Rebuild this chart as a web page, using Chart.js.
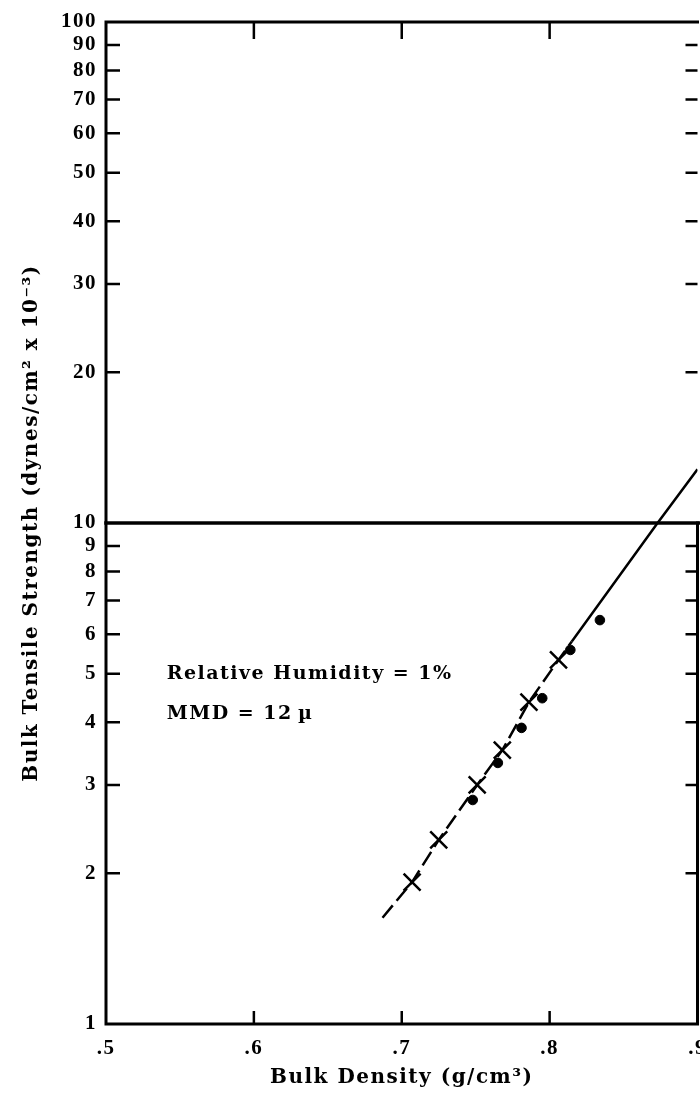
<!DOCTYPE html>
<html>
<head>
<meta charset="utf-8">
<script src="https://cdn.jsdelivr.net/npm/chart.js@4.4.1/dist/chart.umd.min.js"></script>
<style>
    html, body { margin: 0; padding: 0; background: #fff; overflow: hidden; }
    canvas { display: block; }
</style>
</head>
<body>
<!-- a little wider than the window: the ".9" label runs off the page edge like the scan -->
<canvas id="chart" width="712" height="1098"></canvas>
<script>
var xTicks = [0.5, 0.6, 0.7, 0.8, 0.9];
var xTickLabels = ['.5', '.6', '.7', '.8', '.9'];
var yTicks = [1, 2, 3, 4, 5, 6, 7, 8, 9, 10, 20, 30, 40, 50, 60, 70, 80, 90, 100];

// x markers
var crossDensity = [0.707, 0.725, 0.751, 0.768, 0.786, 0.806];
var crossStrength = [1.92, 2.33, 3.00, 3.52, 4.39, 5.33];
// filled dots
var dotDensity = [0.748, 0.765, 0.781, 0.795, 0.814, 0.834];
var dotStrength = [2.80, 3.32, 3.90, 4.47, 5.58, 6.40];
// fitted curve, dashed part then solid part
var dashedDensity = [0.687, 0.707, 0.725, 0.751, 0.768, 0.786, 0.806, 0.815];
var dashedStrength = [1.63, 1.92, 2.33, 3.00, 3.52, 4.39, 5.33, 5.80];
var solidDensity = [0.815, 0.873, 0.900];
var solidStrength = [5.80, 10.0, 12.8];

var notes = ['Relative Humidity = 1%', 'MMD = 12\u2009\u00b5'];

function pts(xs, ys) {
    return xs.map(function (x, i) { return {x: x, y: ys[i]}; });
}

var FONT = '"DejaVu Serif", "Liberation Serif", serif';
var TICKFONT = '"Liberation Serif", "DejaVu Serif", serif';

// typewriter look: a bit of spacing between letters
var spacingPlugin = {
    id: 'spacing',
    beforeDraw: function (chart) { chart.ctx.letterSpacing = '1.5px'; },
    afterDraw: function (chart) { chart.ctx.letterSpacing = '0px'; }
};

var framePlugin = {
    id: 'frame',
    afterDatasetsDraw: function (chart) {
        var ctx = chart.ctx, a = chart.chartArea;
        var xs = chart.scales.x, ys = chart.scales.y;
        var y10 = ys.getPixelForValue(10);
        ctx.save();
        ctx.strokeStyle = '#000';
        ctx.lineCap = 'square';
        ctx.lineWidth = 3;
        ctx.beginPath();
        ctx.moveTo(a.right, a.top);
        ctx.lineTo(a.left, a.top);
        ctx.lineTo(a.left, a.bottom);
        ctx.lineTo(a.right, a.bottom);
        ctx.lineTo(a.right, y10);
        ctx.stroke();

        // heavy line at 10
        ctx.lineWidth = 3.5;
        ctx.beginPath();
        ctx.moveTo(a.left, y10);
        ctx.lineTo(a.right + 4, y10);
        ctx.stroke();

        ctx.lineCap = 'butt';
        ctx.lineWidth = 2.5;
        yTicks.forEach(function (v) {
            if (v === 1 || v === 10 || v === 100) return;
            var p = ys.getPixelForValue(v);
            ctx.beginPath();
            ctx.moveTo(a.left, p);
            ctx.lineTo(a.left + 14, p);
            ctx.moveTo(a.right, p);
            ctx.lineTo(a.right - 12, p);
            ctx.stroke();
        });
        xTicks.forEach(function (v) {
            if (v === 0.5 || v === 0.9) return;
            var p = xs.getPixelForValue(v);
            ctx.beginPath();
            ctx.moveTo(p, a.top);
            ctx.lineTo(p, a.top + 17);
            ctx.moveTo(p, a.bottom);
            ctx.lineTo(p, a.bottom - 13);
            ctx.stroke();
        });

        // notes
        ctx.fillStyle = '#000';
        ctx.font = 'bold 19px ' + FONT;
        ctx.textBaseline = 'middle';
        ctx.textAlign = 'left';
        var nx = xs.getPixelForValue(0.541);
        var ny = ys.getPixelForValue(5);
        ctx.fillText(notes[0], nx, ny);
        ctx.fillText(notes[1], nx, ny + 40);
        ctx.restore();
    }
};

new Chart(document.getElementById('chart'), {
    type: 'scatter',
    data: {
        datasets: [
            {
                data: pts(dashedDensity, dashedStrength),
                showLine: true,
                borderColor: '#000',
                borderWidth: 2.5,
                borderDash: [16, 6],
                pointRadius: 0
            },
            {
                data: pts(solidDensity, solidStrength),
                showLine: true,
                borderColor: '#000',
                borderWidth: 2.5,
                pointRadius: 0
            },
            {
                data: pts(crossDensity, crossStrength),
                pointStyle: 'crossRot',
                pointRadius: 12,
                borderColor: '#000',
                borderWidth: 2.5
            },
            {
                data: pts(dotDensity, dotStrength),
                pointStyle: 'circle',
                pointRadius: 4.8,
                backgroundColor: '#000',
                borderColor: '#000',
                borderWidth: 1
            }
        ]
    },
    options: {
        responsive: false,
        animation: false,
        layout: {padding: {top: 22, right: 2, left: 0, bottom: 0}},
        plugins: {legend: {display: false}, tooltip: {enabled: false}},
        scales: {
            x: {
                type: 'linear',
                min: 0.5,
                max: 0.9,
                grid: {display: false, drawTicks: true, tickLength: 12},
                border: {display: false},
                afterFit: function (s) {
                    s.height = 74;
                    s.paddingLeft = 0;
                    s.paddingRight = 0;
                },
                afterBuildTicks: function (s) {
                    s.ticks = xTicks.map(function (v) { return {value: v}; });
                },
                ticks: {
                    autoSkip: false,
                    maxRotation: 0,
                    padding: 0,
                    color: '#000',
                    font: {family: TICKFONT, size: 21, weight: 'bold'},
                    callback: function (v) { return xTickLabels[xTicks.indexOf(v)]; }
                },
                title: {
                    display: true,
                    text: 'Bulk Density (g/cm\u00b3)',
                    color: '#000',
                    font: {family: FONT, size: 20, weight: 'bold'},
                    padding: {top: 0, bottom: 8}
                }
            },
            y: {
                type: 'logarithmic',
                min: 1,
                max: 100,
                grid: {display: false, drawTicks: false},
                border: {display: false},
                afterFit: function (s) { s.width = 106; },
                afterBuildTicks: function (s) {
                    s.ticks = yTicks.map(function (v) { return {value: v}; });
                },
                ticks: {
                    autoSkip: false,
                    padding: 9,
                    color: '#000',
                    font: {family: TICKFONT, size: 21, weight: 'bold'},
                    callback: function (v) { return String(v); }
                },
                title: {
                    display: true,
                    text: 'Bulk Tensile Strength (dynes/cm\u00b2 x 10\u207b\u00b3)',
                    color: '#000',
                    font: {family: FONT, size: 20, weight: 'bold'},
                    padding: {top: 20, bottom: 0}
                }
            }
        }
    },
    plugins: [spacingPlugin, framePlugin]
});
</script>
</body>
</html>
